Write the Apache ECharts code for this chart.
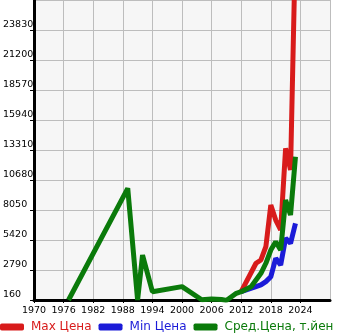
<!DOCTYPE html>
<html><head><meta charset="utf-8">
<script src="https://cdn.jsdelivr.net/npm/echarts@6/dist/echarts.min.js"></script>
<style>html,body{margin:0;padding:0;background:#fff}#c{width:345px;height:335px}</style>
</head><body><div id="c"></div>
<script>
var seriesNames = ['Max Цена', 'Min Цена', 'Сред.Цена, т.йен'];
var maxYears = [2012, 2015, 2016, 2017, 2018, 2019, 2020, 2021, 2022, 2023];
var maxValues = [890, 3380, 3670, 4830, 8490, 7170, 6300, 13460, 11560, 31500];
var minYears = [2012, 2015, 2016, 2017, 2018, 2019, 2020, 2021, 2022, 2023];
var minValues = [890, 1330, 1480, 1770, 2200, 3810, 3230, 5570, 5130, 6880];
var avgYears = [1977, 1989, 1991, 1992, 1994, 2000, 2004, 2006, 2008, 2009, 2011, 2012, 2014, 2016, 2017, 2018, 2019, 2020, 2021, 2022, 2023];
var avgValues = [160, 9950, 160, 4100, 890, 1330, 180, 250, 200, 120, 750, 890, 1330, 2500, 3380, 4540, 5270, 4540, 8930, 7610, 12720];
var yTicks = [160, 2790, 5420, 8050, 10680, 13310, 15940, 18570, 21200, 23830, 26460];
var xTicks = [1970, 1976, 1982, 1988, 1994, 2000, 2006, 2012, 2018, 2024, 2030];
var colors = ['#d81b1b', '#1b1bd8', '#0a7a0a'];

function pairs(xs, ys){ return xs.map(function(x,i){ return [x, ys[i]]; }); }

var chart = echarts.init(document.getElementById('c'), null, {renderer:'canvas'});
var font = 'DejaVu Sans';
chart.setOption({
  animation: false,
  grid: {left: 31, right: 15, top: 0, bottom: 35, show: true, backgroundColor: '#f6f6f6', borderWidth: 0},
  xAxis: {
    type: 'value', min: xTicks[0], max: xTicks[xTicks.length-1], interval: xTicks[1]-xTicks[0],
    axisLine: {show: true, onZero: false, lineStyle: {color: '#000', width: 3}},
    axisTick: {show: true, length: 3, lineStyle: {color: '#000', width: 1}},
    axisLabel: {color: '#000', fontFamily: font, fontSize: 9.5, margin: 6, showMaxLabel: false, formatter: function(v){return String(v);}},
    splitLine: {show: true, lineStyle: {color: '#bdbdbd', width: 1}}
  },
  yAxis: {
    type: 'value', min: yTicks[0], max: yTicks[yTicks.length-1], interval: yTicks[1]-yTicks[0],
    axisLine: {show: true, onZero: false, lineStyle: {color: '#000', width: 3}},
    axisTick: {show: true, length: 4, lineStyle: {color: '#000', width: 1}},
    axisLabel: {color: '#000', fontFamily: font, fontSize: 9.5, margin: 31, align: 'left', verticalAlign: 'bottom', showMaxLabel: false, formatter: function(v){return String(v);}},
    splitLine: {show: true, lineStyle: {color: '#bdbdbd', width: 1}}
  },
  legend: {
    top: 321, left: 0, padding: 0, itemWidth: 24, itemHeight: 7, itemGap: 7,
    icon: 'roundRect',
    textStyle: {fontFamily: font, fontSize: 12, padding: [0, 0, 0, 2]},
    data: seriesNames.map(function(n,i){ return {name: n, textStyle: {color: colors[i]}}; })
  },
  series: [
    {name: seriesNames[0], type: 'line', data: pairs(maxYears, maxValues), showSymbol: false, color: colors[0], lineStyle: {width: 5, color: colors[0]}, z: 2},
    {name: seriesNames[1], type: 'line', data: pairs(minYears, minValues), showSymbol: false, color: colors[1], lineStyle: {width: 5, color: colors[1]}, z: 3},
    {name: seriesNames[2], type: 'line', data: pairs(avgYears, avgValues), showSymbol: false, color: colors[2], lineStyle: {width: 5, color: colors[2]}, z: 4}
  ]
});
</script></body></html>
